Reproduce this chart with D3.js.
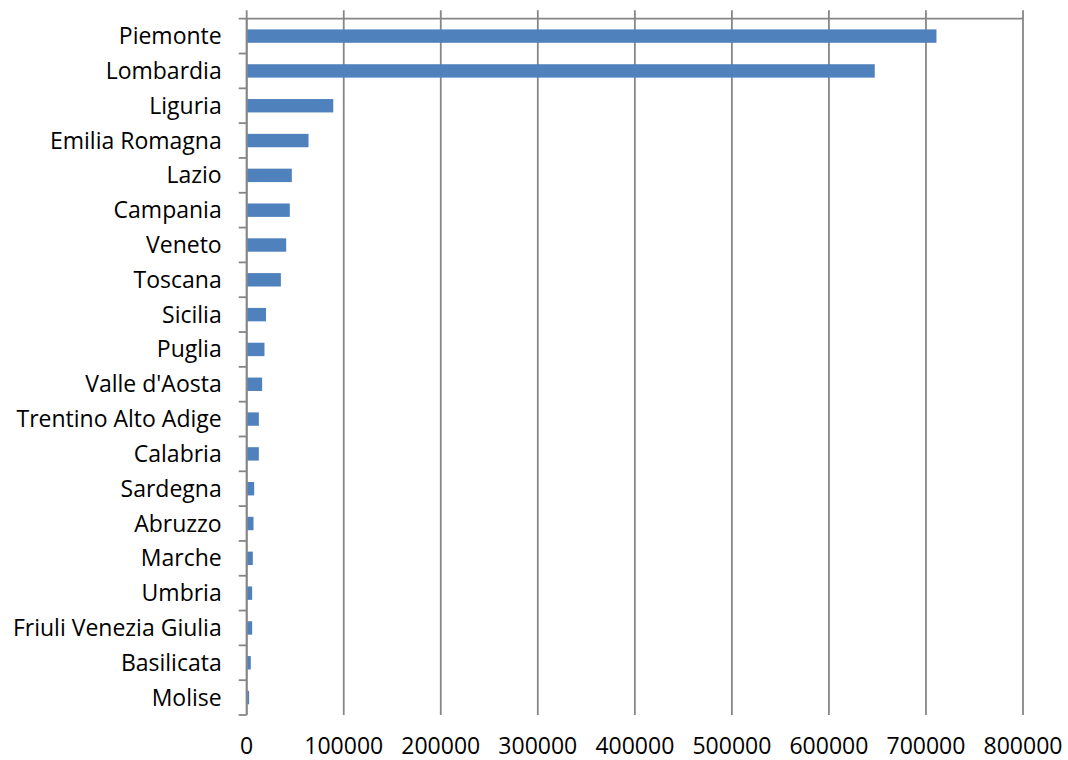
<!DOCTYPE html>
<html>
<head>
<meta charset="utf-8">
<script src="https://cdn.jsdelivr.net/npm/d3@7"></script>
<style>
  body { margin: 0; background: #fff; overflow: hidden; }
  text { font-family: "Open Sans", "Noto Sans", sans-serif; fill: #000; }
</style>
</head>
<body>
<div id="wrapper"></div>
<script>
// regions, top to bottom
const regions = ["Piemonte", "Lombardia", "Liguria", "Emilia Romagna", "Lazio", "Campania",
  "Veneto", "Toscana", "Sicilia", "Puglia", "Valle d'Aosta", "Trentino Alto Adige",
  "Calabria", "Sardegna", "Abruzzo", "Marche", "Umbria", "Friuli Venezia Giulia",
  "Basilicata", "Molise"]
const values = [710300, 646700, 88700, 63200, 46000, 43900, 40200, 34700, 19400, 17800,
  15400, 12000, 12000, 7200, 6500, 5800, 5100, 5100, 3700, 2000]
const xTicks = [0, 100000, 200000, 300000, 400000, 500000, 600000, 700000, 800000]

const dims = {
  width: 1068,
  height: 760,
  margin: { top: 18.7, right: 45, bottom: 45, left: 246.7 },
}
dims.boundWidth = dims.width - dims.margin.left - dims.margin.right
dims.boundHeight = dims.height - dims.margin.top - dims.margin.bottom

const svg = d3.select("#wrapper").append("svg")
  .attr("width", dims.width)
  .attr("height", dims.height)
  .style("display", "block")

const bound = svg.append("g")
  .attr("transform", `translate(${dims.margin.left},${dims.margin.top})`)

const x = d3.scaleLinear().domain([0, 800000]).range([0, dims.boundWidth])
const y = d3.scaleBand().domain(regions).range([0, dims.boundHeight]).paddingInner(0.615).paddingOuter(0.3075)
const yb = d3.scaleBand().domain(regions).range([0, dims.boundHeight])

const gridColor = "#868686"

// vertical gridlines (extend a little above the top axis line)
bound.append("g").selectAll("line")
  .data(xTicks)
  .join("line")
  .attr("x1", d => x(d)).attr("x2", d => x(d))
  .attr("y1", -8.5).attr("y2", dims.boundHeight)
  .attr("stroke", gridColor).attr("stroke-width", 1.8)

// top axis line
bound.append("line")
  .attr("x1", -8).attr("x2", x(800000))
  .attr("y1", 0).attr("y2", 0)
  .attr("stroke", gridColor).attr("stroke-width", 1.8)

// bars
bound.append("g").selectAll("rect")
  .data(regions)
  .join("rect")
  .attr("x", x(0) + 0.5)
  .attr("y", d => y(d))
  .attr("width", (d, i) => x(values[i]) - x(0))
  .attr("height", y.bandwidth())
  .attr("fill", "#4F81BD")

// category axis with ticks at band boundaries
const boundaries = regions.map(d => yb(d) + yb.bandwidth())
bound.append("g").selectAll("line")
  .data(boundaries)
  .join("line")
  .attr("x1", -8).attr("x2", 0)
  .attr("y1", d => d).attr("y2", d => d)
  .attr("stroke", gridColor).attr("stroke-width", 1.8)
bound.append("line")
  .attr("x1", 0).attr("x2", 0)
  .attr("y1", 0).attr("y2", dims.boundHeight)
  .attr("stroke", gridColor).attr("stroke-width", 1.8)

// category labels
bound.append("g").selectAll("text")
  .data(regions)
  .join("text")
  .attr("x", -25)
  .attr("y", d => yb(d) + yb.bandwidth() / 2)
  .attr("dy", "0.35em")
  .attr("text-anchor", "end")
  .style("font-size", "23px")
  .text(d => d)

// value tick labels at the bottom
bound.append("g").selectAll("text")
  .data(xTicks)
  .join("text")
  .attr("x", d => x(d))
  .attr("y", dims.boundHeight + 31)
  .attr("dy", "0.35em")
  .attr("text-anchor", "middle")
  .style("font-size", "23px")
  .text(d => d)
</script>
</body>
</html>
